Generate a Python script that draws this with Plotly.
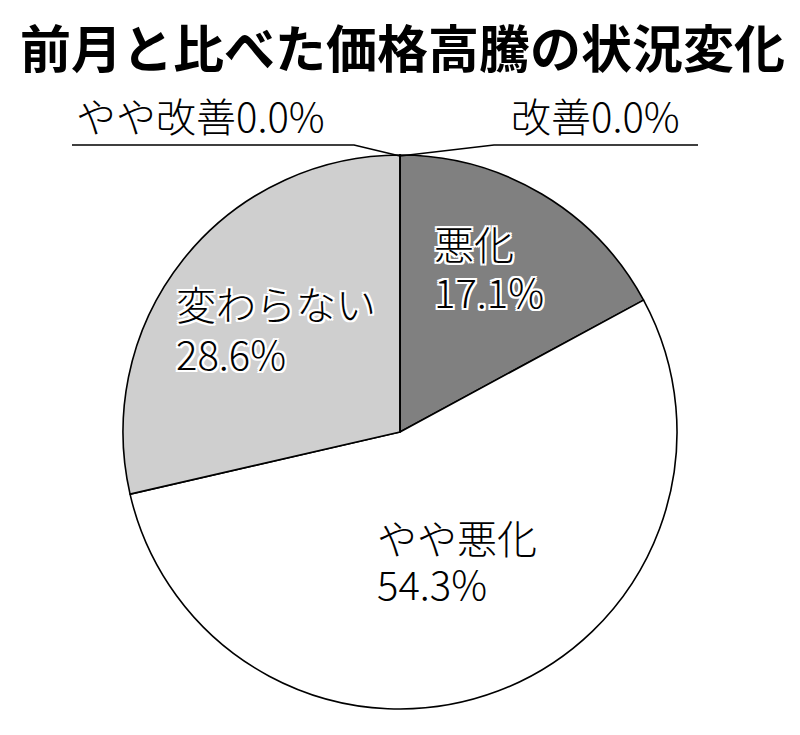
import plotly.graph_objects as go

title = "前月と比べた価格高騰の状況変化"
labels = ["改善", "悪化", "やや悪化", "変わらない", "やや改善"]
values = [0.0, 17.1, 54.3, 28.6, 0.0]
colors = ["#ffffff", "#808080", "#ffffff", "#cfcfcf", "#ffffff"]

W, H = 800, 735
FONT = "Noto Sans CJK JP"

def px(x):
    return x / W

def py(y):
    return 1 - y / H

cx, cy, r = 400, 432, 277

fig = go.Figure(go.Pie(
    labels=labels, values=values, sort=False, direction="clockwise", rotation=0,
    marker=dict(colors=colors, line=dict(color="#000000", width=1.6)),
    textinfo="none", hoverinfo="label+percent", showlegend=False,
    domain=dict(x=[px(cx - r), px(cx + r)], y=[py(cy + r), py(cy - r)]),
))

halo = ", ".join(f"{dx}px {dy}px 0 #ffffff" for dx in (-2, 0, 2) for dy in (-2, 0, 2) if dx or dy)

# label placements: (left x, first line center y, second line center y or None, halo)
pos = {
    "悪化": (432, 248, 296, True),
    "やや悪化": (375, 542, 588, False),
    "変わらない": (174, 308, 358, True),
    "やや改善": (74, 120, None, False),
    "改善": (509, 120, None, False),
}
DY = -5  # visual centre correction
annotations = [dict(text=f"<b>{title}</b>", x=px(18), y=py(51 + DY), xref="paper", yref="paper",
                    xanchor="left", yanchor="middle", showarrow=False,
                    font=dict(family=FONT, size=51, color="#000000"))]
for lab, val in zip(labels, values):
    x, y1, y2, hal = pos[lab]
    f = dict(family=FONT, size=40, color="#000000", weight=300)
    if hal:
        f["shadow"] = halo
    lines = [(f"{lab}", y1), (f"{val:.1f}%", y2)] if y2 is not None else [(f"{lab}{val:.1f}%", y1)]
    for txt, yy in lines:
        annotations.append(dict(text=txt, x=px(x), y=py(yy + DY), xref="paper", yref="paper",
                                xanchor="left", yanchor="middle", align="left", showarrow=False,
                                font=f))

top = (cx, cy - r)
line = dict(color="#000000", width=1.6)
shapes = [
    dict(type="path", xref="paper", yref="paper", line=line,
         path=f"M {px(72)},{py(145)} L {px(354)},{py(145)} L {px(top[0])},{py(top[1]+1)}"),
    dict(type="path", xref="paper", yref="paper", line=line,
         path=f"M {px(top[0])},{py(top[1]+1)} L {px(494)},{py(145)} L {px(698)},{py(145)}"),
]

fig.update_layout(width=W, height=H, margin=dict(l=0, r=0, t=0, b=0),
                  paper_bgcolor="#ffffff", plot_bgcolor="#ffffff",
                  annotations=annotations, shapes=shapes)
fig.write_html("out.html", config=dict(displayModeBar=False))

with open("out.html", encoding="utf-8") as fh:
    html = fh.read()
html = html.replace("<body>", '<body style="margin:0;padding:0;overflow:hidden">', 1)
with open("out.html", "w", encoding="utf-8") as fh:
    fh.write(html)
